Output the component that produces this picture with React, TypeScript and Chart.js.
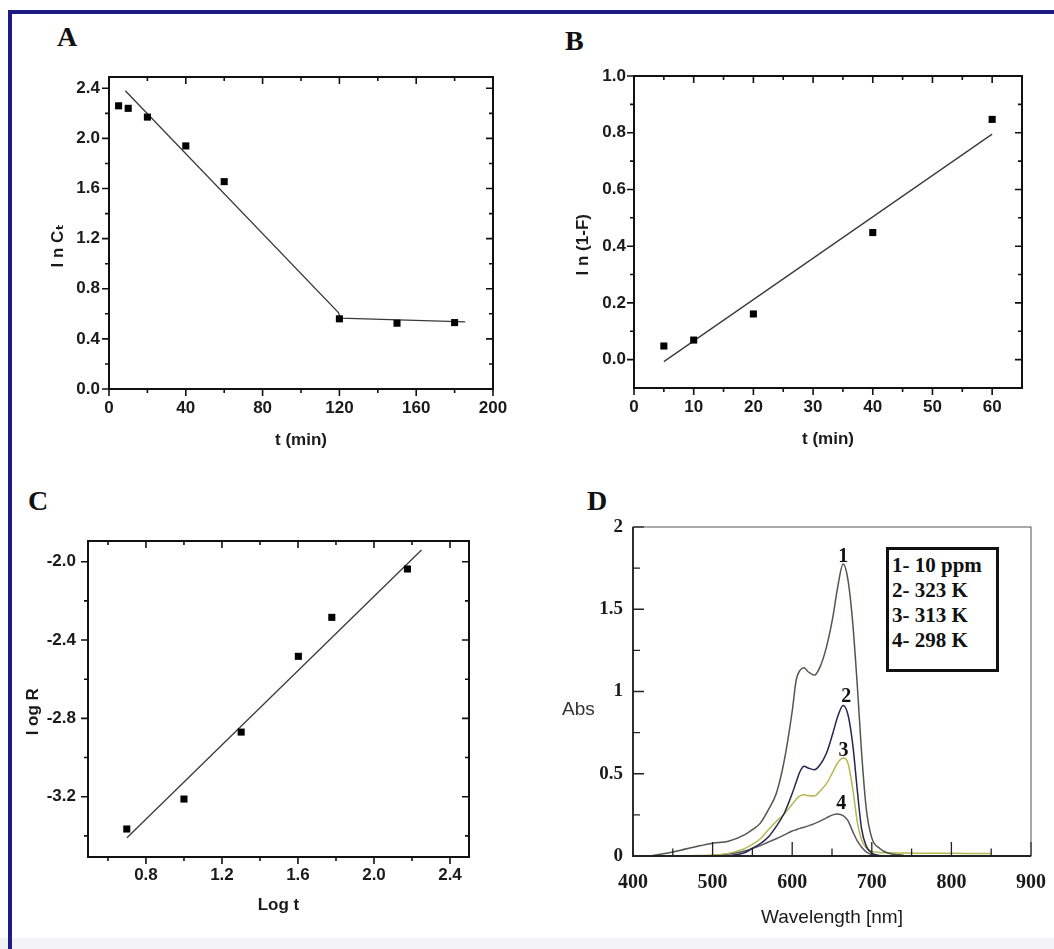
import React, { useEffect, useRef } from "react";
import { Chart, registerables } from "chart.js";
Chart.register(...registerables);

const SANS = '"Liberation Sans", Arial, "DejaVu Sans", sans-serif';
const SERIF = '"Liberation Serif", "Times New Roman", Times, serif';

// ---------- Panel A : ln Ct vs t ----------
const aTime = [5, 10, 20, 40, 60, 120, 150, 180];
const aLnCt = [2.26, 2.24, 2.17, 1.94, 1.655, 0.56, 0.525, 0.53];
const aFitTime = [8.5, 119.5, 120.5, 185.5];
const aFitLnCt = [2.38, 0.61, 0.565, 0.535];
const aXTicks = [0, 40, 80, 120, 160, 200];
const aXMinor = [20, 60, 100, 140, 180];
const aYTicks = [0, 0.4, 0.8, 1.2, 1.6, 2.0, 2.4];
const aYMinor = [0.2, 0.6, 1.0, 1.4, 1.8, 2.2];

// ---------- Panel B : ln(1-F) vs t ----------
const bTime = [5, 10, 20, 40, 60];
const bLn1F = [0.048, 0.069, 0.161, 0.448, 0.847];
const bFitTime = [5, 60];
const bFitLn1F = [-0.007, 0.795];
const bXTicks = [0, 10, 20, 30, 40, 50, 60];
const bXMinor = [5, 15, 25, 35, 45, 55];
const bYTicks = [0, 0.2, 0.4, 0.6, 0.8, 1.0];
const bYMinor = [0.1, 0.3, 0.5, 0.7, 0.9];

// ---------- Panel C : log R vs log t ----------
const cLogT = [0.699, 1.0, 1.301, 1.602, 1.778, 2.176];
const cLogR = [-3.365, -3.212, -2.87, -2.483, -2.284, -2.037];
const cFitLogT = [0.7, 2.25];
const cFitLogR = [-3.41, -1.94];
const cXTicks = [0.8, 1.2, 1.6, 2.0, 2.4];
const cXMinor = [0.6, 1.0, 1.4, 1.8, 2.2];
const cYTicks = [-3.2, -2.8, -2.4, -2.0];
const cYMinor = [-3.4, -3.0, -2.6, -2.2];

// ---------- Panel D : absorption spectra ----------
const dWavelength = [420, 440, 460, 480, 500, 520, 540, 550, 560, 570, 580, 590, 600, 605, 610, 615, 620, 628, 635, 643, 651, 657, 664, 670, 676, 682, 687, 693, 700, 710, 720, 740, 760, 800, 850];
const dAbs10ppm = [0.0, 0.015, 0.035, 0.058, 0.078, 0.09, 0.128, 0.16, 0.2, 0.28, 0.38, 0.58, 0.88, 1.07, 1.13, 1.145, 1.12, 1.10, 1.15, 1.27, 1.45, 1.63, 1.775, 1.68, 1.42, 1.02, 0.64, 0.29, 0.11, 0.046, 0.018, 0.004, null, null, null];
const dAbs323K = [null, null, null, null, null, 0.0, 0.02, 0.047, 0.075, 0.115, 0.18, 0.26, 0.38, 0.45, 0.515, 0.545, 0.535, 0.525, 0.555, 0.625, 0.745, 0.845, 0.915, 0.86, 0.68, 0.39, 0.17, 0.06, 0.018, 0.003, 0.0, null, null, null, null];
const dAbs313K = [null, null, 0.0, 0.003, 0.006, 0.016, 0.045, 0.07, 0.105, 0.16, 0.21, 0.255, 0.315, 0.345, 0.365, 0.372, 0.368, 0.365, 0.395, 0.44, 0.51, 0.565, 0.595, 0.565, 0.41, 0.2, 0.1, 0.05, 0.028, 0.022, 0.02, 0.018, 0.017, 0.016, 0.015];
const dAbs298K = [null, null, null, null, 0.0, 0.012, 0.03, 0.045, 0.063, 0.085, 0.105, 0.128, 0.152, 0.16, 0.168, 0.175, 0.183, 0.197, 0.212, 0.232, 0.25, 0.255, 0.245, 0.215, 0.15, 0.09, 0.055, 0.025, 0.008, 0.0, null, null, null, null, null];
const dLegend = ["1- 10 ppm", "2- 323 K", "3- 313 K", "4- 298 K"];
const dCurveTags = ["1", "2", "3", "4"];
const dTagWavelength = [664, 668, 664.5, 661.5];
const dTagAbs = [1.82, 0.97, 0.64, 0.32];
const dXTicks = [400, 500, 600, 700, 800, 900];
const dXMinor = [450, 550, 650, 750, 850];
const dYTicks = [0, 0.5, 1, 1.5, 2];
const dYMinor = [0.25, 0.75, 1.25, 1.75];
const dColors = ["#4b5a48", "#26264e", "#b4b84e", "#595959"];

const pts = (xs: number[], ys: (number | null)[]) => xs.map((x, i) => ({ x, y: ys[i] }));

function framePlugin(spec: any) {
  return {
    id: "frameTicks",
    afterDraw(chart: any) {
      const { ctx, chartArea: a } = chart;
      const xs = chart.scales.x;
      const ys = chart.scales.y;
      ctx.save();
      ctx.strokeStyle = spec.color;
      ctx.lineWidth = spec.tickWidth;
      ctx.beginPath();
      const vx = (vals: number[], len: number) =>
        vals.forEach((v) => {
          const p = xs.getPixelForValue(v);
          if (spec.bottom) {
            ctx.moveTo(p, a.bottom);
            ctx.lineTo(p, a.bottom + (spec.bottom === "out" ? len : -len));
          }
          if (spec.top) {
            ctx.moveTo(p, a.top);
            ctx.lineTo(p, a.top + (spec.top === "out" ? -len : len));
          }
        });
      const vy = (vals: number[], len: number) =>
        vals.forEach((v) => {
          const p = ys.getPixelForValue(v);
          if (spec.left) {
            ctx.moveTo(a.left, p);
            ctx.lineTo(a.left + (spec.left === "out" ? -len : len), p);
          }
          if (spec.right) {
            ctx.moveTo(a.right, p);
            ctx.lineTo(a.right + (spec.right === "out" ? len : -len), p);
          }
        });
      vx(spec.xMajor, spec.xMajorLen);
      vx(spec.xMinor, spec.xMinorLen);
      vy(spec.yMajor, spec.yMajorLen);
      vy(spec.yMinor, spec.yMinorLen);
      ctx.stroke();
      ctx.lineWidth = spec.frameWidth;
      ctx.strokeStyle = spec.frameColor;
      ctx.strokeRect(a.left, a.top, a.right - a.left, a.bottom - a.top);
      if (spec.axisWidth) {
        ctx.lineWidth = spec.axisWidth;
        ctx.strokeStyle = spec.color;
        ctx.beginPath();
        ctx.moveTo(a.left, a.top);
        ctx.lineTo(a.left, a.bottom);
        ctx.lineTo(a.right, a.bottom);
        ctx.stroke();
      }
      ctx.restore();
    },
  };
}

function axis(o: any) {
  return {
    type: "linear",
    position: o.position,
    min: o.min,
    max: o.max,
    bounds: "data",
    afterBuildTicks: (s: any) => {
      s.ticks = o.ticks.map((v: number) => ({ value: v }));
    },
    afterFit: (s: any) => {
      if (o.position === "bottom") s.height = o.size;
      else s.width = o.size;
      s.paddingLeft = 0;
      s.paddingRight = 0;
      s.paddingTop = 0;
      s.paddingBottom = 0;
    },
    grid: { display: false, drawTicks: false },
    border: { display: false },
    ticks: {
      padding: o.pad,
      color: o.color,
      font: o.font,
      autoSkip: false,
      maxRotation: 0,
      minRotation: 0,
      callback: o.fmt,
    },
    title: o.title
      ? { display: true, text: o.title, padding: 0, color: o.color, font: o.titleFont }
      : { display: false },
  };
}

const tickFont = { family: SANS, size: 17, weight: "bold" };
const titleFont = { family: SANS, size: 17, weight: "bold" };
const fix1 = (v: any) => Number(v).toFixed(1);
const plain = (v: any) => String(v);
const Y_SHIFT = "\u2003\u2002";

function kinetics(p: any) {
  return () => ({
    type: "scatter",
    data: {
      datasets: [
        {
          data: pts(p.x, p.y),
          pointStyle: "rect",
          pointRadius: 5,
          backgroundColor: "#000",
          borderColor: "#000",
          borderWidth: 0,
        },
        {
          data: pts(p.fitX, p.fitY),
          showLine: true,
          borderColor: "#3a3a3a",
          borderWidth: 1.3,
          pointRadius: 0,
          fill: false,
        },
      ],
    },
    options: {
      responsive: false,
      animation: false,
      devicePixelRatio: 1,
      layout: { padding: { top: p.padTop, right: p.padRight, left: 0, bottom: 0 } },
      plugins: { legend: { display: false }, tooltip: { enabled: false } },
      scales: {
        x: axis({ position: "bottom", min: p.xMin, max: p.xMax, ticks: p.xTicks, size: p.xH, pad: p.xPad, color: "#1a1a1a", font: tickFont, fmt: p.xFmt, title: p.xTitle, titleFont }),
        y: axis({ position: "left", min: p.yMin, max: p.yMax, ticks: p.yTicks, size: p.yW, pad: p.yPad, color: "#1a1a1a", font: tickFont, fmt: fix1, title: p.yTitle + Y_SHIFT, titleFont }),
      },
    },
    plugins: [
      framePlugin({
        color: "#111", tickWidth: 1.6, frameWidth: 2, frameColor: "#111",
        left: "out", bottom: "out", top: "in", right: "in",
        xMajor: p.xTicks, xMinor: p.xMinor, yMajor: p.yTicks, yMinor: p.yMinor,
        xMajorLen: 7, xMinorLen: 4, yMajorLen: 7, yMinorLen: 4,
      }),
    ],
  });
}

const configA = kinetics({
  x: aTime, y: aLnCt, fitX: aFitTime, fitY: aFitLnCt,
  xMin: 0, xMax: 200, yMin: 0, yMax: 2.49,
  xTicks: aXTicks, xMinor: aXMinor, yTicks: aYTicks, yMinor: aYMinor,
  xFmt: plain, xTitle: "t (min)", yTitle: "l n C\u209c",
  padTop: 12, padRight: 20, yW: 61, xH: 62, xPad: 9, yPad: 9,
});

const configB = kinetics({
  x: bTime, y: bLn1F, fitX: bFitTime, fitY: bFitLn1F,
  xMin: 0, xMax: 65, yMin: -0.1, yMax: 1.0,
  xTicks: bXTicks, xMinor: bXMinor, yTicks: bYTicks, yMinor: bYMinor,
  xFmt: plain, xTitle: "t (min)", yTitle: "l n (1-F)",
  padTop: 12, padRight: 20, yW: 61, xH: 62, xPad: 9, yPad: 8,
});

const configC = kinetics({
  x: cLogT, y: cLogR, fitX: cFitLogT, fitY: cFitLogR,
  xMin: 0.495, xMax: 2.5, yMin: -3.508, yMax: -1.894,
  xTicks: cXTicks, xMinor: cXMinor, yTicks: cYTicks, yMinor: cYMinor,
  xFmt: fix1, xTitle: "Log t", yTitle: "l og R",
  padTop: 12, padRight: 20, yW: 65, xH: 59, xPad: 8, yPad: 12,
});

const tagPlugin = {
  id: "curveTags",
  afterDatasetsDraw(chart: any) {
    const { ctx } = chart;
    const xs = chart.scales.x;
    const ys = chart.scales.y;
    ctx.save();
    ctx.font = `bold 20px ${SERIF}`;
    ctx.fillStyle = "#111";
    ctx.textAlign = "center";
    ctx.textBaseline = "middle";
    dCurveTags.forEach((t, i) => {
      ctx.fillText(t, xs.getPixelForValue(dTagWavelength[i]), ys.getPixelForValue(dTagAbs[i]));
    });
    ctx.restore();
  },
};

const configD = () => ({
  type: "scatter",
  data: {
    datasets: [dAbs10ppm, dAbs323K, dAbs313K, dAbs298K].map((ys, i) => ({
      label: dLegend[i],
      data: pts(dWavelength, ys),
      showLine: true,
      borderColor: dColors[i],
      borderWidth: 1.5,
      pointRadius: 0,
      fill: false,
      cubicInterpolationMode: "monotone",
      spanGaps: false,
    })),
  },
  options: {
    responsive: false,
    animation: false,
    devicePixelRatio: 1,
    layout: { padding: { top: 14, right: 22, left: 0, bottom: 0 } },
    plugins: { legend: { display: false }, tooltip: { enabled: false } },
    scales: {
      x: axis({ position: "bottom", min: 400, max: 900, ticks: dXTicks, size: 73, pad: 15, color: "#1a1a1a", font: { family: SERIF, size: 20, weight: "bold" }, fmt: plain, title: "Wavelength [nm]", titleFont: { family: SANS, size: 19, weight: "normal" } }),
      y: axis({ position: "left", min: 0, max: 2, ticks: dYTicks, size: 50, pad: 10, color: "#1a1a1a", font: { family: SERIF, size: 19, weight: "bold" }, fmt: plain }),
    },
  },
  plugins: [
    framePlugin({
      color: "#222", tickWidth: 1.3, frameWidth: 1, frameColor: "#555", axisWidth: 1.8,
      left: "in", bottom: "in",
      xMajor: dXTicks, xMinor: dXMinor, yMajor: dYTicks, yMinor: dYMinor,
      xMajorLen: 14, xMinorLen: 7.5, yMajorLen: 11, yMinorLen: 7,
    }),
    tagPlugin,
  ],
});

function ChartCanvas({ left, top, width, height, config }: any) {
  const ref = useRef<HTMLCanvasElement | null>(null);
  useEffect(() => {
    const chart = new Chart(ref.current as HTMLCanvasElement, config() as any);
    return () => chart.destroy();
  }, []);
  return (
    <canvas
      ref={ref}
      width={width}
      height={height}
      style={{ position: "absolute", left, top, width, height }}
    />
  );
}

const letterStyle = (left: number, top: number): React.CSSProperties => ({
  position: "absolute",
  left,
  top,
  fontFamily: SERIF,
  fontWeight: "bold",
  fontSize: 28,
  lineHeight: 1,
  color: "#111",
});

export default function App() {
  return (
    <div style={{ position: "fixed", left: 0, top: 0, width: 1054, height: 949, overflow: "hidden", background: "#fff" }}>
      <div style={{ position: "absolute", left: 0, top: 938, width: 1054, height: 11, background: "#f3f3f6" }} />
      <div style={{ position: "absolute", left: 8, top: 10, width: 1100, height: 1000, border: "4px solid #1e1b87", boxSizing: "border-box" }} />

      <div style={letterStyle(57, 23)}>A</div>
      <div style={letterStyle(565, 27)}>B</div>
      <div style={letterStyle(28, 487)}>C</div>
      <div style={letterStyle(587, 487)}>D</div>

      <ChartCanvas left={48} top={65} width={465} height={386} config={configA} />
      <ChartCanvas left={573} top={64} width={469} height={386} config={configB} />
      <ChartCanvas left={23} top={529} width={466} height={387} config={configC} />
      <ChartCanvas left={583} top={513} width={470} height={416} config={configD} />

      <div style={{ position: "absolute", left: 562, top: 699, fontFamily: SANS, fontSize: 19, lineHeight: 1, color: "#333" }}>Abs</div>

      <div
        style={{
          position: "absolute",
          left: 886,
          top: 547,
          width: 113,
          height: 125,
          border: "3px solid #111",
          boxSizing: "border-box",
          background: "#fff",
          padding: "3px 0 0 3px",
          fontFamily: SERIF,
          fontWeight: "bold",
          fontSize: 21,
          lineHeight: "25px",
          color: "#111",
          whiteSpace: "nowrap",
        }}
      >
        {dLegend.map((t) => (
          <div key={t}>{t}</div>
        ))}
      </div>
    </div>
  );
}
